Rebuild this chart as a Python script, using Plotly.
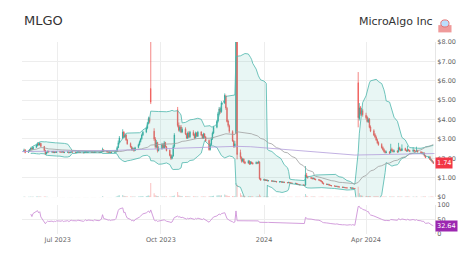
import pandas as pd
import numpy as np
import plotly.graph_objects as go

# ---------------- data ----------------
start_date = "2023-06-01"

opens = [
    # Jun 2023
    2.35, 2.44, 2.31, 2.37, 2.46, 2.53, 2.47, 2.57, 2.66, 2.76, 2.69, 2.77, 2.61, 2.41, 2.23, 2.31, 2.37, 2.32, 2.36, 2.29, 2.34, 2.30,
    # Jul
    2.34, 2.33, 2.32, 2.35, 2.30, 2.31, 2.33, 2.29, 2.31, 2.34, 2.32, 2.30, 2.31, 2.33, 2.32, 2.30, 2.29, 2.31, 2.33, 2.30, 2.32,
    # Aug
    2.31, 2.31, 2.30, 2.32, 2.31, 2.30, 2.32, 2.33, 2.44, 2.36, 2.33, 2.31, 2.32, 2.30, 2.31, 2.32, 2.36, 2.56, 2.82, 3.05, 3.36, 3.10, 3.21,
    # Sep
    2.95, 2.76, 2.60, 2.44, 2.51, 2.40, 2.56, 2.70, 2.86, 3.01, 3.21, 3.36, 3.56, 3.81, 4.06, 5.60, 3.40, 3.00, 2.58, 2.82, 2.40,
    # Oct
    2.50, 2.72, 2.54, 2.82, 2.60, 2.42, 2.16, 2.00, 2.12, 2.62, 4.50, 3.70, 3.44, 3.62, 3.36, 3.52, 3.24, 3.04, 3.31, 3.12, 3.34, 3.22,
    # Nov
    3.06, 3.31, 3.14, 3.36, 3.21, 3.04, 3.26, 3.10, 2.92, 2.46, 2.71, 3.01, 3.31, 3.61, 3.92, 4.31, 4.56, 4.41, 4.86, 5.20, 4.58, 3.92,
    # Dec
    3.68, 3.38, 2.88, 2.62, 3.30, 9.80, 2.30, 2.04, 1.86, 1.96, 1.81, 1.76, 1.86, 1.71, 1.81, 1.76, 1.73, 1.79, 1.76, 1.82, 0.96,
    # Jan 2024
    0.88, 0.91, 0.86, 0.88, 0.84, 0.85, 0.82, 0.83, 0.80, 0.81, 0.78, 0.79, 0.80, 0.76, 0.78, 0.75, 0.74, 0.76, 0.73, 0.72, 0.70, 0.71, 0.68,
    # Feb
    0.66, 0.65, 0.63, 0.62, 0.62, 1.12, 1.04, 1.00, 0.98, 0.95, 0.97, 0.92, 0.90, 0.88, 0.85, 0.80, 0.72, 0.68, 0.65, 0.66, 0.62,
    # Mar
    0.60, 0.58, 0.57, 0.55, 0.56, 0.53, 0.52, 0.50, 0.51, 0.49, 0.48, 0.47, 0.48, 0.46, 0.47, 0.45, 5.90, 4.05, 4.62, 4.28, 4.46,
    # Apr
    4.22, 4.12, 3.88, 4.02, 3.62, 3.42, 3.22, 3.10, 2.96, 2.82, 2.72, 2.56, 2.46, 2.36, 2.30, 2.33, 2.29, 2.46, 2.41, 2.35, 2.38, 2.34,
    # May
    2.55, 2.46, 2.40, 2.51, 2.42, 2.37, 2.46, 2.40, 2.36, 2.43, 2.38, 2.35, 2.41, 2.34, 2.31, 2.23, 2.28, 2.13, 2.03, 2.08, 1.95, 1.89, 1.82,
]
highs = [
    2.50, 2.46, 2.42, 2.49, 2.56, 2.56, 2.62, 2.72, 2.82, 2.80, 2.84, 2.79, 2.64, 2.44, 2.34, 2.40, 2.39, 2.38, 2.38, 2.36, 2.36, 2.37,
    2.37, 2.36, 2.38, 2.37, 2.34, 2.36, 2.35, 2.33, 2.37, 2.36, 2.34, 2.33, 2.36, 2.35, 2.34, 2.32, 2.34, 2.36, 2.35, 2.34, 2.35,
    2.34, 2.33, 2.35, 2.34, 2.33, 2.34, 2.36, 2.55, 2.46, 2.38, 2.35, 2.35, 2.33, 2.34, 2.35, 2.40, 2.62, 2.92, 3.15, 3.50, 3.40, 3.30, 3.25,
    3.00, 2.82, 2.64, 2.58, 2.54, 2.60, 2.76, 2.92, 3.06, 3.28, 3.42, 3.62, 3.88, 4.15, 4.12, 9.50, 3.55, 3.10, 2.95, 2.85, 2.62,
    2.80, 2.78, 2.90, 2.85, 2.64, 2.46, 2.22, 2.18, 2.70, 3.30, 4.65, 3.85, 3.70, 3.72, 3.60, 3.60, 3.30, 3.38, 3.40, 3.42, 3.45, 3.28,
    3.38, 3.35, 3.42, 3.40, 3.25, 3.32, 3.30, 3.15, 2.98, 2.78, 3.08, 3.38, 3.68, 3.98, 4.40, 4.65, 4.62, 4.95, 5.35, 5.28, 4.65, 4.00,
    3.75, 3.45, 2.95, 2.90, 15.00, 12.00, 2.45, 2.10, 2.02, 2.00, 1.86, 1.92, 1.90, 1.86, 1.84, 1.80, 1.84, 1.82, 1.88, 1.84, 0.98,
    0.95, 0.93, 0.91, 0.90, 0.88, 0.87, 0.86, 0.85, 0.84, 0.83, 0.82, 0.83, 0.82, 0.80, 0.80, 0.78, 0.79, 0.78, 0.76, 0.75, 0.74, 0.73, 0.70,
    0.68, 0.67, 0.65, 0.64, 1.60, 1.25, 1.10, 1.05, 1.02, 1.01, 0.99, 0.95, 0.93, 0.90, 0.87, 0.82, 0.75, 0.70, 0.69, 0.68, 0.64,
    0.62, 0.60, 0.59, 0.58, 0.57, 0.55, 0.54, 0.53, 0.52, 0.51, 0.50, 0.50, 0.49, 0.49, 0.48, 0.47, 6.45, 4.85, 4.70, 4.60, 4.55,
    4.35, 4.20, 4.10, 4.08, 3.70, 3.50, 3.30, 3.18, 3.02, 2.88, 2.78, 2.62, 2.52, 2.42, 2.40, 2.38, 2.75, 2.55, 2.48, 2.45, 2.42, 2.80,
    2.60, 2.50, 2.72, 2.55, 2.45, 2.65, 2.48, 2.42, 2.58, 2.45, 2.40, 2.60, 2.44, 2.36, 2.34, 2.31, 2.30, 2.16, 2.10, 2.10, 1.98, 1.92, 1.84,
]
lows = [
    2.32, 2.26, 2.28, 2.34, 2.42, 2.44, 2.45, 2.54, 2.62, 2.66, 2.66, 2.58, 2.36, 2.18, 2.20, 2.28, 2.30, 2.29, 2.27, 2.27, 2.28, 2.28,
    2.30, 2.29, 2.30, 2.28, 2.27, 2.29, 2.26, 2.27, 2.29, 2.30, 2.27, 2.28, 2.29, 2.30, 2.28, 2.26, 2.27, 2.29, 2.28, 2.28, 2.29,
    2.28, 2.28, 2.28, 2.29, 2.27, 2.28, 2.30, 2.32, 2.34, 2.31, 2.29, 2.29, 2.28, 2.28, 2.29, 2.30, 2.34, 2.52, 2.78, 3.00, 3.05, 3.05, 2.90,
    2.70, 2.55, 2.40, 2.40, 2.34, 2.38, 2.52, 2.66, 2.82, 2.96, 3.15, 3.30, 3.50, 3.75, 3.80, 4.80, 2.90, 2.50, 2.52, 2.30, 2.36,
    2.45, 2.50, 2.50, 2.55, 2.36, 2.10, 1.92, 1.95, 2.08, 2.55, 3.60, 3.38, 3.35, 3.30, 3.30, 3.20, 3.00, 3.00, 3.05, 3.05, 3.15, 3.00,
    3.02, 3.10, 3.10, 3.15, 3.00, 3.00, 3.05, 2.85, 2.40, 2.40, 2.65, 2.95, 3.25, 3.55, 3.85, 4.25, 4.30, 4.35, 4.80, 4.50, 3.85, 3.60,
    3.30, 2.85, 2.55, 2.55, 3.25, 1.95, 1.95, 1.78, 1.80, 1.74, 1.70, 1.72, 1.66, 1.68, 1.70, 1.68, 1.70, 1.70, 1.72, 0.90, 0.84,
    0.85, 0.84, 0.84, 0.82, 0.82, 0.80, 0.80, 0.78, 0.78, 0.76, 0.76, 0.77, 0.74, 0.74, 0.73, 0.72, 0.72, 0.71, 0.70, 0.68, 0.68, 0.66, 0.64,
    0.63, 0.61, 0.60, 0.58, 0.58, 1.00, 0.96, 0.94, 0.92, 0.92, 0.90, 0.87, 0.85, 0.82, 0.78, 0.70, 0.66, 0.63, 0.62, 0.60, 0.58,
    0.56, 0.55, 0.53, 0.54, 0.51, 0.50, 0.48, 0.49, 0.47, 0.46, 0.45, 0.46, 0.44, 0.45, 0.43, 0.42, 3.60, 3.95, 4.20, 4.20, 4.15,
    4.00, 3.85, 3.82, 3.55, 3.35, 3.15, 3.05, 2.90, 2.75, 2.65, 2.50, 2.40, 2.30, 2.25, 2.26, 2.22, 2.26, 2.35, 2.30, 2.30, 2.28, 2.30,
    2.40, 2.36, 2.38, 2.38, 2.33, 2.35, 2.36, 2.32, 2.34, 2.34, 2.31, 2.33, 2.30, 2.27, 2.21, 2.20, 2.10, 2.01, 2.00, 1.92, 1.86, 1.79, 1.71,
]
closes = [
    2.42, 2.30, 2.38, 2.45, 2.52, 2.48, 2.58, 2.68, 2.75, 2.70, 2.78, 2.62, 2.40, 2.22, 2.30, 2.36, 2.33, 2.35, 2.30, 2.33, 2.31, 2.34,
    2.33, 2.32, 2.35, 2.30, 2.31, 2.33, 2.29, 2.31, 2.34, 2.32, 2.30, 2.31, 2.33, 2.32, 2.30, 2.29, 2.31, 2.33, 2.30, 2.32, 2.31,
    2.31, 2.30, 2.32, 2.31, 2.30, 2.32, 2.33, 2.45, 2.36, 2.33, 2.31, 2.32, 2.30, 2.31, 2.32, 2.35, 2.55, 2.80, 3.05, 3.35, 3.10, 3.20, 2.95,
    2.75, 2.60, 2.45, 2.50, 2.40, 2.55, 2.70, 2.85, 3.00, 3.20, 3.35, 3.55, 3.80, 4.05, 3.90, 4.90, 3.00, 2.60, 2.80, 2.40, 2.50,
    2.70, 2.55, 2.80, 2.60, 2.40, 2.15, 2.00, 2.10, 2.60, 3.20, 3.70, 3.45, 3.60, 3.35, 3.50, 3.25, 3.05, 3.30, 3.10, 3.35, 3.20, 3.05,
    3.30, 3.15, 3.35, 3.20, 3.05, 3.25, 3.10, 2.90, 2.45, 2.70, 3.00, 3.30, 3.60, 3.90, 4.30, 4.55, 4.40, 4.85, 5.25, 4.60, 3.90, 3.70,
    3.40, 2.90, 2.60, 2.75, 10.00, 2.20, 2.05, 1.85, 1.95, 1.80, 1.75, 1.85, 1.70, 1.80, 1.75, 1.72, 1.78, 1.75, 1.80, 0.95, 0.88,
    0.90, 0.86, 0.88, 0.84, 0.85, 0.82, 0.83, 0.80, 0.81, 0.78, 0.79, 0.80, 0.76, 0.78, 0.75, 0.74, 0.76, 0.73, 0.72, 0.70, 0.71, 0.68, 0.66,
    0.65, 0.63, 0.62, 0.60, 1.15, 1.05, 1.00, 0.98, 0.95, 0.97, 0.92, 0.90, 0.88, 0.85, 0.80, 0.72, 0.68, 0.65, 0.66, 0.62, 0.60,
    0.58, 0.57, 0.55, 0.56, 0.53, 0.52, 0.50, 0.51, 0.49, 0.48, 0.47, 0.48, 0.46, 0.47, 0.45, 0.44, 4.10, 4.60, 4.30, 4.45, 4.25,
    4.10, 3.90, 4.00, 3.60, 3.40, 3.20, 3.10, 2.95, 2.80, 2.70, 2.55, 2.45, 2.35, 2.30, 2.32, 2.28, 2.45, 2.40, 2.35, 2.38, 2.33, 2.55,
    2.45, 2.40, 2.50, 2.42, 2.38, 2.45, 2.40, 2.36, 2.42, 2.38, 2.35, 2.40, 2.33, 2.30, 2.24, 2.27, 2.12, 2.04, 2.07, 1.94, 1.88, 1.81, 1.74,
]
volumes = [  # hundreds of thousands of shares
    4, 3, 3, 3, 4, 3, 4, 5, 5, 4, 5, 4, 5, 4, 3, 3, 2, 2, 2, 2, 2, 2,
    2, 1, 2, 2, 2, 2, 2, 1, 2, 2, 2, 2, 2, 2, 2, 1, 2, 2, 2, 2, 2,
    2, 2, 2, 2, 2, 2, 2, 6, 3, 2, 2, 2, 2, 2, 2, 3, 8, 12, 14, 16, 10, 8, 7,
    6, 5, 5, 4, 4, 4, 5, 5, 6, 7, 8, 9, 10, 12, 10, 110, 30, 15, 10, 8, 7,
    6, 5, 6, 5, 5, 5, 5, 6, 8, 12, 40, 15, 10, 8, 8, 7, 6, 6, 6, 5, 6, 5,
    5, 5, 5, 4, 4, 4, 4, 5, 7, 6, 7, 8, 10, 12, 14, 15, 12, 14, 20, 15, 12, 9,
    8, 8, 7, 9, 110, 95, 30, 15, 12, 10, 8, 8, 7, 7, 6, 6, 5, 6, 6, 20, 10,
    6, 5, 4, 4, 4, 3, 3, 3, 3, 3, 3, 3, 3, 3, 3, 3, 3, 3, 3, 3, 3, 3, 3,
    3, 3, 3, 3, 25, 10, 6, 5, 4, 4, 4, 3, 3, 3, 4, 4, 3, 3, 3, 3, 3,
    3, 3, 3, 3, 3, 3, 3, 3, 3, 3, 3, 3, 3, 3, 3, 3, 80, 30, 15, 12, 10,
    9, 8, 8, 8, 7, 7, 6, 6, 6, 5, 5, 5, 4, 4, 4, 4, 5, 4, 4, 4, 4, 5,
    4, 4, 5, 4, 4, 4, 4, 3, 4, 3, 3, 4, 3, 3, 3, 4, 4, 4, 3, 3, 4, 4, 3,
]

# long moving average
long_ma_dates = ["2023-05-30", "2023-08-15", "2023-10-15", "2023-12-07",
                 "2023-12-20", "2024-03-22", "2024-06-01"]
long_ma_values = [2.35, 2.40, 2.52, 2.62, 2.60, 2.17, 2.25]

price_tick_vals = [0, 1, 2, 3, 4, 5, 6, 7, 8]
price_tick_text = ["$0", "$1.00", "$2.00", "$3.00", "$4.00", "$5.00", "$6.00", "$7.00", "$8.00"]
date_tick_vals = ["2023-07-01", "2023-10-01", "2024-01-01", "2024-04-01"]
date_tick_text = ["Jul 2023", "Oct 2023", "2024", "Apr 2024"]
rsi_tick_vals = [0, 50, 100]
last_rsi_text = "32.64"

# ---------------- derived indicators ----------------
n = len(closes)
dates = pd.bdate_range(start_date, periods=n)
close = pd.Series(closes, index=dates)
mid = close.rolling(20, min_periods=5).mean()
sd = close.rolling(20, min_periods=5).std()
upper = mid + 2 * sd
lower = mid - 2 * sd
sma50 = close.rolling(50, min_periods=1).mean()

delta = close.diff().fillna(0)
gain = delta.clip(lower=0).ewm(alpha=1 / 14, adjust=True).mean()
loss = (-delta.clip(upper=0)).ewm(alpha=1 / 14, adjust=True).mean()
rsi = 100 - 100 / (1 + gain / loss.replace(0, np.nan))
rsi.iloc[:4] = np.nan

UP = "#26a69a"
DOWN = "#ef5350"
BAND = "#4db6ac"

fig = go.Figure()
fig.add_trace(go.Scatter(x=dates, y=upper, mode="lines", line=dict(color=BAND, width=0.8),
                         hoverinfo="skip", showlegend=False))
fig.add_trace(go.Scatter(x=dates, y=lower, mode="lines", line=dict(color=BAND, width=0.8),
                         fill="tonexty", fillcolor="rgba(77,182,172,0.13)",
                         hoverinfo="skip", showlegend=False))
fig.add_trace(go.Scatter(x=dates, y=sma50, mode="lines", line=dict(color="#a0a0a0", width=0.8),
                         showlegend=False))
fig.add_trace(go.Scatter(x=pd.to_datetime(long_ma_dates), y=long_ma_values, mode="lines",
                         line=dict(color="#b39ddb", width=0.8), showlegend=False))
fig.add_trace(go.Candlestick(x=dates, open=opens, high=highs, low=lows, close=closes,
                             increasing=dict(line=dict(color=UP, width=0.7), fillcolor=UP),
                             decreasing=dict(line=dict(color=DOWN, width=0.7), fillcolor=DOWN),
                             whiskerwidth=0, showlegend=False))
vol_colors = ["rgba(38,166,154,0.4)" if c >= o else "rgba(239,83,80,0.4)"
              for o, c in zip(opens, closes)]
fig.add_trace(go.Bar(x=dates, y=volumes, marker=dict(color=vol_colors, line=dict(width=0)),
                     yaxis="y3", showlegend=False))
fig.add_trace(go.Scatter(x=dates, y=rsi, mode="lines", line=dict(color="#ce93d8", width=0.9),
                         yaxis="y2", showlegend=False))

grid = "#ededed"
tickfont = dict(family="DejaVu Sans", size=6.5, color="#666")
fig.update_layout(
    width=474, height=266,
    margin=dict(l=22, r=39, t=42, b=32),
    paper_bgcolor="white", plot_bgcolor="white",
    bargap=0.2,
    xaxis=dict(range=["2023-05-30 04:00", "2024-06-01 12:00"], anchor="y2",
               tickvals=date_tick_vals, ticktext=date_tick_text, tickfont=tickfont,
               showgrid=True, gridcolor=grid, gridwidth=1, zeroline=False,
               rangeslider=dict(visible=False), ticks="", showline=False),
    yaxis=dict(domain=[0.192, 1], range=[0, 8], side="right", tickvals=price_tick_vals,
               ticktext=price_tick_text, tickfont=tickfont, showgrid=True, gridcolor=grid,
               zeroline=False, ticks="", showline=True, linecolor="#e6e6e6", linewidth=1),
    yaxis2=dict(domain=[0, 0.153], range=[0, 100], side="right", anchor="x",
                tickvals=rsi_tick_vals, tickfont=tickfont, showgrid=True, gridcolor=grid,
                zeroline=False, ticks="", showline=True, linecolor="#e6e6e6", linewidth=1),
    yaxis3=dict(overlaying="y", range=[0, 1200], visible=False),
    showlegend=False,
)

fig.add_annotation(xref="paper", yref="paper", x=0, y=1.06, xanchor="left", yanchor="bottom",
                   text="MLGO", showarrow=False,
                   font=dict(family="DejaVu Sans", size=13, color="#333"))
fig.add_annotation(xref="paper", yref="paper", x=1.0, y=1.06, xanchor="right", yanchor="bottom",
                   text="MicroAlgo Inc", showarrow=False,
                   font=dict(family="DejaVu Sans", size=11, color="#333"))
# small logo
fig.add_shape(type="rect", xref="paper", yref="paper", x0=1.008, x1=1.040, y0=1.050, y1=1.088,
              fillcolor="#ef9a9a", line=dict(width=0))
fig.add_shape(type="circle", xref="paper", yref="paper", x0=1.014, x1=1.034, y0=1.078, y1=1.115,
              fillcolor="#bbdefb", line=dict(color="#e57373", width=1))

fig.add_annotation(xref="paper", yref="y", x=1.0, y=closes[-1], xanchor="left", yanchor="middle",
                   text=f"{closes[-1]:.2f}", showarrow=False, bgcolor="#f23645",
                   font=dict(family="DejaVu Sans", size=6.5, color="white"), borderpad=1)
fig.add_annotation(xref="paper", yref="y2", x=1.0, y=float(rsi.iloc[-1]), xanchor="left",
                   yanchor="middle", text=last_rsi_text, showarrow=False, bgcolor="#9c27b0",
                   font=dict(family="DejaVu Sans", size=6.5, color="white"), borderpad=1)

fig.write_html("out.html")
